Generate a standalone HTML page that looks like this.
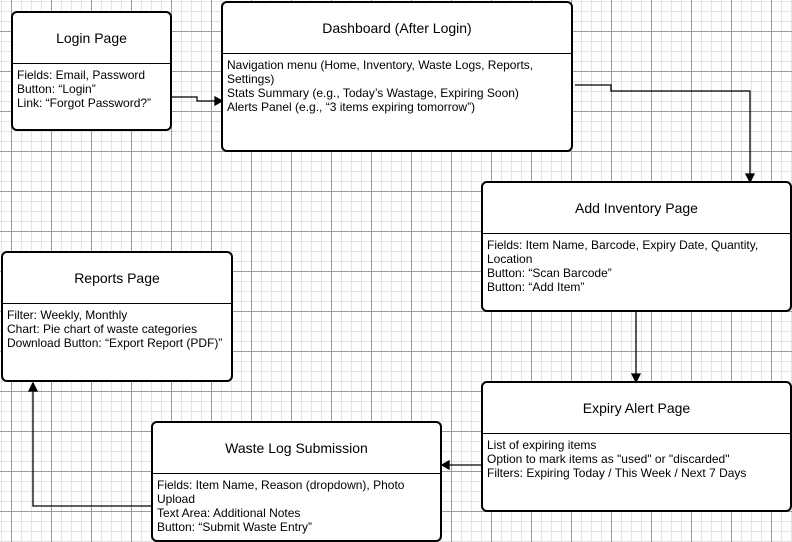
<!DOCTYPE html>
<html><head><style>
body{margin:0;width:792px;height:542px;overflow:hidden;position:relative;font-family:"Liberation Sans",Arial,sans-serif;
background-color:#fff;
background-image:
linear-gradient(#9a9a9a 1px,transparent 1px),
linear-gradient(90deg,#9a9a9a 1px,transparent 1px),
linear-gradient(#e2e2e2 1px,transparent 1px),
linear-gradient(90deg,#e2e2e2 1px,transparent 1px);
background-size:40px 40px,40px 40px,10px 10px,10px 10px;
background-position:0 31px,11px 0,0 1px,1px 0;}
.b{position:absolute;border:2px solid #000;border-radius:6px;background:#fff;box-sizing:border-box}
.h{display:flex;align-items:center;justify-content:center;font-size:14px;border-bottom:1.5px solid #000;box-sizing:border-box}
.t{font-size:12px;line-height:14px;padding:4px 4px 0 4px;color:#000}
svg{position:absolute;left:0;top:0}
</style></head><body>
<div class="b" style="left:11px;top:11px;width:161px;height:120px"><div class="h" style="height:51px">Login Page</div><div class="t">Fields: Email, Password<br>Button: “Login”<br>Link: “Forgot Password?”</div></div>
<div class="b" style="left:221px;top:1px;width:352px;height:151px"><div class="h" style="height:51px">Dashboard (After Login)</div><div class="t">Navigation menu (Home, Inventory, Waste Logs, Reports, Settings)<br>Stats Summary (e.g., Today’s Wastage, Expiring Soon)<br>Alerts Panel (e.g., “3 items expiring tomorrow”)</div></div>
<div class="b" style="left:481px;top:181px;width:311px;height:131px"><div class="h" style="height:51px">Add Inventory Page</div><div class="t">Fields: Item Name, Barcode, Expiry Date, Quantity, Location<br>Button: “Scan Barcode”<br>Button: “Add Item”</div></div>
<div class="b" style="left:1px;top:251px;width:232px;height:131px"><div class="h" style="height:51px">Reports Page</div><div class="t">Filter: Weekly, Monthly<br>Chart: Pie chart of waste categories<br>Download Button: “Export Report (PDF)”</div></div>
<div class="b" style="left:481px;top:381px;width:311px;height:131px"><div class="h" style="height:51px">Expiry Alert Page</div><div class="t">List of expiring items<br>Option to mark items as "used" or "discarded"<br>Filters: Expiring Today / This Week / Next 7 Days</div></div>
<div class="b" style="left:151px;top:421px;width:291px;height:121px"><div class="h" style="height:51px">Waste Log Submission</div><div class="t">Fields: Item Name, Reason (dropdown), Photo Upload<br>Text Area: Additional Notes<br>Button: “Submit Waste Entry”</div></div>
<svg width="792" height="542" fill="none" stroke="#000" stroke-width="1.3">
<path d="M172 97H197V101H216"/><path d="M222 101l-7-4v8z" fill="#000"/>
<path d="M575 85H611V91H750V176"/><path d="M750 182l-4-8h8z" fill="#000"/>
<path d="M636 312V376"/><path d="M636 382l-4-8h8z" fill="#000"/>
<path d="M481 465H448"/><path d="M442 465l7-4v8z" fill="#000"/>
<path d="M151 506H33V389"/><path d="M33 383l-4 8h8z" fill="#000"/>
</svg>
</body></html>
